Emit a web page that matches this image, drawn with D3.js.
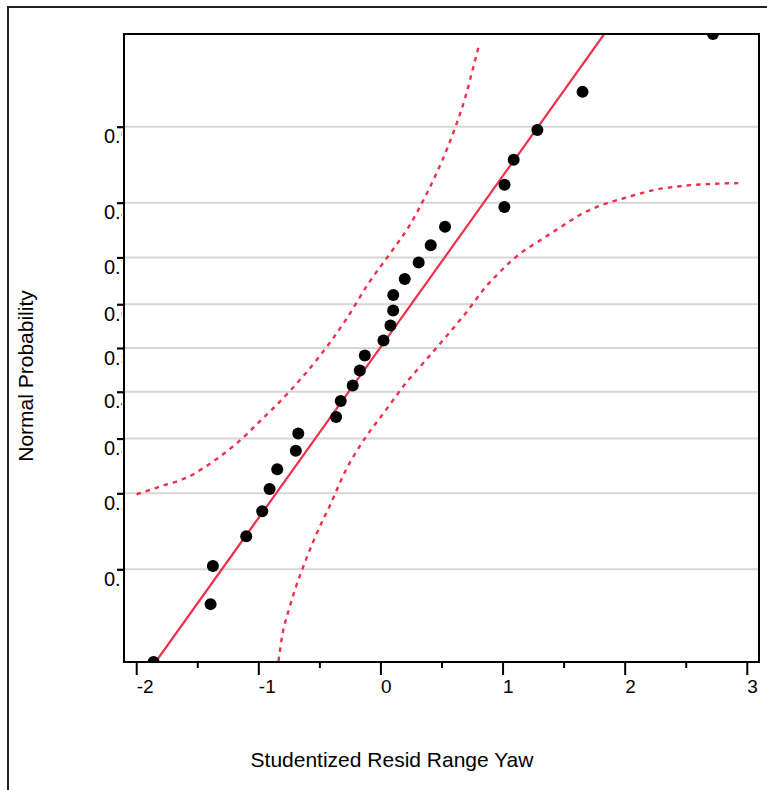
<!DOCTYPE html>
<html><head><meta charset="utf-8">
<script src="https://cdn.jsdelivr.net/npm/d3@7"></script>
<style>body{margin:0;background:#fff}svg{display:block}</style>
</head><body><svg id="c" width="767" height="790"></svg>
<script>
// Studentized residuals (sorted) and their plotting positions (normal probability)
const residuals = [-1.858,-1.391,-1.372,-1.099,-0.968,-0.908,-0.845,-0.693,-0.673,-0.363,-0.325,-0.227,-0.169,-0.128,
  0.025,0.082,0.104,0.105,0.199,0.313,0.412,0.529,1.015,1.016,1.091,1.285,1.655,2.723];
const probabilities = [0.0345,0.0690,0.1034,0.1379,0.1724,0.2069,0.2414,0.2759,0.3103,0.3448,0.3793,0.4138,0.4483,0.4828,
  0.5172,0.5517,0.5862,0.6207,0.6552,0.6897,0.7241,0.7586,0.7931,0.8276,0.8621,0.8966,0.9310,0.9655];
// fitted normal line endpoints [residual, probability]
const fitLine = [[-1.841,0.0345],[1.833,0.9655]];
// confidence band curves: residual and normal quantile
const upperBandX = [-1.997,-1.882,-1.759,-1.653,-1.538,-1.448,-1.350,-1.252,-1.162,-0.998,-0.753,-0.507,-0.286,-0.098,0.098,0.229,0.393,0.507,0.614,0.696,0.761,0.810];
const upperBandZ = [-0.847,-0.821,-0.792,-0.769,-0.734,-0.694,-0.647,-0.595,-0.543,-0.432,-0.258,-0.055,0.160,0.374,0.566,0.699,0.914,1.088,1.280,1.454,1.628,1.762];
const lowerBandX = [-0.835,-0.802,-0.753,-0.695,-0.614,-0.548,-0.475,-0.434,-0.286,-0.123,0.041,0.205,0.368,0.532,0.696,0.859,1.007,1.146,1.310,1.473,1.661,1.858,2.021,2.234,2.455,2.676,2.930];
const lowerBandZ = [-1.814,-1.657,-1.523,-1.390,-1.233,-1.117,-1.001,-0.943,-0.711,-0.519,-0.363,-0.206,-0.073,0.061,0.200,0.351,0.461,0.548,0.624,0.699,0.781,0.839,0.873,0.914,0.937,0.949,0.955];
const xDomain = [-2.1, 3.1];
const yDomain = [0.0345, 0.9655];
const xTicks = [-2,-1,0,1,2,3];
const xTickLabels = ["-2","-1","0","1","2","3"];
const xMinorTicks = [-1.5,-0.5,0.5,1.5,2.5];
const yTicks = [0.1,0.2,0.3,0.4,0.5,0.6,0.7,0.8,0.9];
const yTickLabels = ["0.1","0.2","0.3","0.4","0.5","0.6","0.7","0.8","0.9"];
const xTitle = "Studentized Resid Range Yaw";
const yTitle = "Normal Probability";

// inverse normal CDF (Acklam) for the probability axis
function probit(p){
  const a=[-3.969683028665376e+01,2.209460984245205e+02,-2.759285104469687e+02,1.383577518672690e+02,-3.066479806614716e+01,2.506628277459239e+00];
  const b=[-5.447609879822406e+01,1.615858368580409e+02,-1.556989798598866e+02,6.680131188771972e+01,-1.328068155288572e+01];
  const c=[-7.784894002430293e-03,-3.223964580411365e-01,-2.400758277161838e+00,-2.549732539343734e+00,4.374664141464968e+00,2.938163982698783e+00];
  const d=[7.784695709041462e-03,3.224671290700398e-01,2.445134137142996e+00,3.754408661907416e+00];
  const pl=0.02425, ph=1-pl; let q,r;
  if(p<pl){q=Math.sqrt(-2*Math.log(p));return (((((c[0]*q+c[1])*q+c[2])*q+c[3])*q+c[4])*q+c[5])/((((d[0]*q+d[1])*q+d[2])*q+d[3])*q+1);}
  if(p<=ph){q=p-0.5;r=q*q;return (((((a[0]*r+a[1])*r+a[2])*r+a[3])*r+a[4])*r+a[5])*q/(((((b[0]*r+b[1])*r+b[2])*r+b[3])*r+b[4])*r+1);}
  q=Math.sqrt(-2*Math.log(1-p));return -(((((c[0]*q+c[1])*q+c[2])*q+c[3])*q+c[4])*q+c[5])/((((d[0]*q+d[1])*q+d[2])*q+d[3])*q+1);
}

const L=124, R=759, T=34, B=662;
const RED="#f0304c", FONT="'Liberation Sans', Arial, sans-serif";
const svg=d3.select("#c");
const x=d3.scaleLinear().domain(xDomain).range([L,R]);
const yz=d3.scaleLinear().domain(yDomain.map(probit)).range([B,T]);
const yp=p=>yz(probit(p));

// outer frame
svg.append("rect").attr("x",8).attr("y",7).attr("width",900).attr("height",900)
  .attr("fill","none").attr("stroke","#222").attr("stroke-width",2);

const defs=svg.append("defs");
defs.append("clipPath").attr("id","plot").append("rect").attr("x",L).attr("y",T).attr("width",R-L).attr("height",B-T);
// per-tick label clip (in tick-local coordinates): hides everything right of the axis
defs.append("clipPath").attr("id","ylab").append("rect").attr("x",-40).attr("y",-10).attr("width",38).attr("height",40);

// gridlines
svg.append("g").selectAll("line").data(yTicks).join("line")
  .attr("x1",L).attr("x2",R).attr("y1",d=>yp(d)).attr("y2",d=>yp(d))
  .attr("stroke","#d6d6d6").attr("stroke-width",2);

const plot=svg.append("g").attr("clip-path","url(#plot)");
const bandLine=d3.line().x(d=>x(d[0])).y(d=>yz(d[1])).curve(d3.curveMonotoneX);
plot.append("path").attr("d",bandLine(upperBandX.map((v,i)=>[v,upperBandZ[i]])))
  .attr("fill","none").attr("stroke",RED).attr("stroke-width",2.4).attr("stroke-dasharray","4.5,5");
plot.append("path").attr("d",bandLine(lowerBandX.map((v,i)=>[v,lowerBandZ[i]])))
  .attr("fill","none").attr("stroke",RED).attr("stroke-width",2.4).attr("stroke-dasharray","4.5,5");
plot.append("path").attr("d",d3.line().x(d=>x(d[0])).y(d=>yp(d[1]))(fitLine))
  .attr("fill","none").attr("stroke",RED).attr("stroke-width",2.2);
plot.selectAll("circle").data(residuals).join("circle")
  .attr("cx",d=>x(d)).attr("cy",(d,i)=>yp(probabilities[i])).attr("r",6).attr("fill","#000");

// x axis
const xa=svg.append("g").attr("transform",`translate(0,${B})`)
  .call(d3.axisBottom(x).tickValues(xTicks).tickSize(13).tickFormat((d,i)=>xTickLabels[i]));
xa.select(".domain").remove();
xa.selectAll(".tick line").attr("stroke","#000").attr("stroke-width",2);
xa.selectAll(".tick text").attr("text-anchor","start").attr("x",0).attr("y",31).attr("dy",0)
  .attr("font-family",FONT).attr("font-size",19).attr("fill","#000");
const xm=svg.append("g").attr("transform",`translate(0,${B})`)
  .call(d3.axisBottom(x).tickValues(xMinorTicks).tickSize(6).tickFormat(""));
xm.select(".domain").remove();
xm.selectAll(".tick line").attr("stroke","#000").attr("stroke-width",2);

// y axis (labels clipped at the axis line, as in the original)
const ya=svg.append("g").attr("transform",`translate(${L},0)`)
  .call(d3.axisLeft(yz).tickValues(yTicks.map(probit)).tickSize(7).tickFormat((d,i)=>yTickLabels[i]));
ya.select(".domain").remove();
ya.selectAll(".tick line").attr("stroke","#000").attr("stroke-width",2.2);
ya.selectAll(".tick text").attr("text-anchor","start").attr("x",-20).attr("y",16).attr("dy",0)
  .attr("font-family",FONT).attr("font-size",20).attr("fill","#000").attr("clip-path","url(#ylab)");

// plot frame
svg.append("rect").attr("x",L).attr("y",T).attr("width",R-L).attr("height",B-T)
  .attr("fill","none").attr("stroke","#000").attr("stroke-width",2);

// titles
svg.append("text").attr("x",392).attr("y",767).attr("text-anchor","middle")
  .attr("font-family",FONT).attr("font-size",21).attr("fill","#000").text(xTitle);
svg.append("text").attr("transform","translate(33,376) rotate(-90)").attr("text-anchor","middle")
  .attr("font-family",FONT).attr("font-size",21).attr("fill","#000").text(yTitle);
</script></body></html>
